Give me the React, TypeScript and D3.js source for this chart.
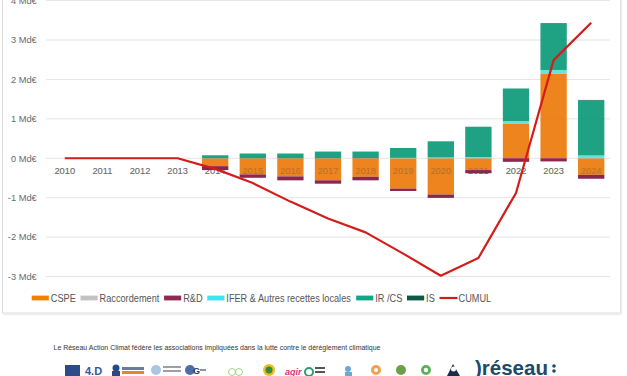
import React, { useMemo } from 'react';
import * as d3 from 'd3';

const years = ['2010','2011','2012','2013','2014','2015','2016','2017','2018','2019','2020','2021','2022','2023','2024'];
const cspe = [0, 0, 0, 0, -0.2, -0.41, -0.46, -0.56, -0.47, -0.77, -0.92, -0.3, 0.87, 2.14, -0.42];
const raccordement = [0, 0, 0, 0, 0, 0, 0, 0, 0, 0, 0, 0, 0, 0, 0];
const rd = [0, 0, 0, 0, -0.1, -0.085, -0.1, -0.085, -0.09, -0.06, -0.085, -0.08, -0.09, -0.08, -0.1];
const ifer = [0, 0, 0, 0, 0, 0, 0, 0, 0, 0.01, 0.02, 0.03, 0.07, 0.1, 0.07];
const ircs = [0, 0, 0, 0, 0.076, 0.12, 0.12, 0.17, 0.17, 0.25, 0.41, 0.77, 0.83, 1.19, 1.39];
const isTax = [0, 0, 0, 0, 0, 0, 0, 0, 0, 0, 0, 0, 0, 0, 0.02];
const cumul = [0, 0, 0, 0, -0.27, -0.63, -1.1, -1.53, -1.88, -2.42, -2.98, -2.53, -0.88, 2.49, 3.44];

const yTicks = [-3, -2, -1, 0, 1, 2, 3, 4];
const seriesKeys = ['cspe', 'racc', 'rd', 'ifer', 'ircs', 'is'];
const seriesNames = ['CSPE', 'Raccordement', 'R&D', 'IFER & Autres recettes locales', 'IR /CS', 'IS'];
const barColors = ['#eb7400', '#b8b8b8', '#7a0a36', '#52e0d6', '#009672', '#005a40'];
const legendColors = ['#ee8200', '#c2c2c2', '#8e2a52', '#3ce3f0', '#14a585', '#0b5a45'];
const cumulName = 'CUMUL';
const cumulColor = '#d41c1c';
const footerText = 'Le Réseau Action Climat fédère les associations impliquées dans la lutte contre le dérèglement climatique';

const FONT = '"Liberation Sans", Arial, sans-serif';

function measure(text: string, size: number) {
  const c = document.createElement('canvas').getContext('2d');
  if (!c) return text.length * size * 0.5;
  c.font = `${size}px "Liberation Sans"`;
  return c.measureText(text).width;
}

export default function App() {
  const W = 627, H = 376;
  const x = d3.scaleBand<string>().domain(years).range([46, 610]).paddingInner(0.3).paddingOuter(0.15);
  const y = d3.scaleLinear().domain([-3, 4]).range([276.5, 0.6]);

  const rows = years.map((yr, i) => ({
    year: yr, cspe: cspe[i], racc: raccordement[i], rd: rd[i], ifer: ifer[i], ircs: ircs[i], is: isTax[i],
  }));
  const stacked = d3.stack<any>().keys(seriesKeys).offset(d3.stackOffsetDiverging)(rows);

  const line = d3.line<number>()
    .x((_, i) => (x(years[i]) as number) + x.bandwidth() / 2)
    .y(d => y(d));

  const legendFont = 10.5;
  const legendScale = 0.875;
  const legendItems = useMemo(() => {
    const items: any[] = [];
    let cx = 0;
    const all = [...seriesNames.map((n, i) => ({ name: n, color: legendColors[i], type: 'rect' })), { name: cumulName, color: cumulColor, type: 'line' }];
    all.forEach(it => {
      const w = measure(it.name, legendFont);
      items.push({ ...it, x: cx, tx: cx + 21.8 });
      cx += 21.8 + w + 5.4;
    });
    return items;
  }, []);

  const xLabels = (op: number, k: string) => years.map(yr => (
    <text key={k + yr} x={(x(yr) as number) + x.bandwidth() / 2} y={173.6} textAnchor="middle" fontSize={9.3} fill="#6e6e6e" opacity={op}>{yr}</text>
  ));

  return (
    <svg width={W} height={H} style={{ position: 'absolute', left: 0, top: 0, background: '#fff' }} fontFamily={FONT}>
      {/* card */}
      <rect x={2.5} y={-10} width={618} height={323} fill="#fff" stroke="#dcdcdc" strokeWidth={1} />
      <line x1={3} x2={621} y1={314.5} y2={314.5} stroke="#eeeeee" strokeWidth={1.5} />
      <line x1={621.5} x2={621.5} y1={0} y2={314} stroke="#efefef" strokeWidth={1.5} />

      {/* grid */}
      {yTicks.map(t => (
        <g key={t}>
          <line x1={46} x2={610} y1={y(t)} y2={y(t)} stroke="#e4e4e4" strokeWidth={1} />
          <text x={36.8} y={y(t)} dy="0.35em" textAnchor="end" fontSize={9.3} fill="#6a6a6a">{`${t} Md€`}</text>
        </g>
      ))}

      {/* x labels (under bars) */}
      {xLabels(1, 'u')}

      {/* bars */}
      <g opacity={0.88}>
        {stacked.map((s, si) => (
          <g key={s.key} fill={barColors[si]}>
            {s.map((d, i) => {
              const h = Math.abs(y(d[0]) - y(d[1]));
              if (h < 0.01) return null;
              return <rect key={i} x={x(years[i])} width={x.bandwidth()} y={Math.min(y(d[0]), y(d[1]))} height={h} />;
            })}
          </g>
        ))}
      </g>

      {/* faint label overlay so labels show through bars */}
      {xLabels(0.32, 'o')}

      {/* cumul line */}
      <path d={line(cumul) || ''} fill="none" stroke={cumulColor} strokeWidth={2.2} strokeLinejoin="round" />

      {/* legend */}
      <g transform={`translate(31.7,298) scale(${legendScale},1)`}>
        {legendItems.map(it => (
          <g key={it.name}>
            {it.type === 'rect'
              ? <rect x={it.x} y={-2.4} width={19.6} height={4.8} fill={it.color} />
              : <line x1={it.x} x2={it.x + 20.5} y1={0} y2={0} stroke={it.color} strokeWidth={2.2} />}
            <text x={it.tx} y={0} dy="0.36em" fontSize={legendFont} fill="#555">{it.name}</text>
          </g>
        ))}
      </g>

      {/* footer */}
      <text x={53.5} y={349.5} fontSize={8} fill="#333" textLength={327} lengthAdjust="spacingAndGlyphs">{footerText}</text>

      {/* partner logos (approximate) */}
      <g>
        <rect x={65} y={365} width={15} height={11} fill="#2c4b8a" />
        <text x={85} y={375} fontSize={11} fill="#3454a4" fontWeight="bold">4.D</text>
        <circle cx={116} cy={368} r={3.5} fill="#234a8c" />
        <rect x={112} y={371} width={8} height={5} fill="#234a8c" />
        <rect x={122} y={367} width={22} height={3} fill="#6b7aa0" />
        <rect x={122} y={371} width={22} height={3} fill="#e08a2a" />
        <circle cx={156} cy={370} r={5} fill="#a8c6e4" />
        <rect x={163} y={366} width={18} height={2} fill="#9aa0aa" />
        <rect x={163} y={370} width={18} height={2} fill="#9aa0aa" />
        <circle cx={190} cy={370} r={5} fill="#4c6ea8" />
        <text x={193} y={374} fontSize={9} fontWeight="bold" fill="#2a3c6a">G</text>
        <rect x={200} y={369} width={6} height={2} fill="#8a93a8" />
        <circle cx={232} cy={372} r={3.5} fill="none" stroke="#9fd48a" strokeWidth={1} />
        <circle cx={239} cy={372} r={3.5} fill="none" stroke="#9fd48a" strokeWidth={1} />
        <circle cx={269} cy={370} r={6} fill="#e8c020" />
        <circle cx={269} cy={370} r={3.5} fill="#3a8a3a" />
        <text x={285} y={375} fontSize={9} fontStyle="italic" fill="#d8337a" fontWeight="bold">agir</text>
        <circle cx={309} cy={372} r={4} fill="none" stroke="#2aa072" strokeWidth={2} />
        <rect x={315} y={367} width={10} height={2} fill="#555" />
        <rect x={315} y={371} width={10} height={2} fill="#555" />
        <circle cx={348} cy={369} r={3} fill="#6aa8d8" />
        <rect x={345} y={372} width={7} height={4} fill="#6aa8d8" />
        <circle cx={376} cy={370} r={5} fill="#f0a050" />
        <circle cx={376} cy={370} r={2} fill="#fff" />
        <circle cx={401} cy={370} r={5} fill="#6aa04a" />
        <circle cx={426} cy={370} r={5} fill="#5ab05a" />
        <circle cx={426} cy={370} r={2.2} fill="#fff" />
        <path d="M447,376 L453,364 L460,376 Z" fill="#1a2a4a" />
        <circle cx={453.5} cy={369} r={2.5} fill="#fff" />
        <text x={475} y={375} fontSize={20.5} fontWeight="bold" fill="#1d4a66">)réseau</text>
        <circle cx={554} cy={366} r={1.8} fill="#1d4a66" />
        <circle cx={554} cy={371} r={1.8} fill="#1d4a66" />
      </g>
    </svg>
  );
}
